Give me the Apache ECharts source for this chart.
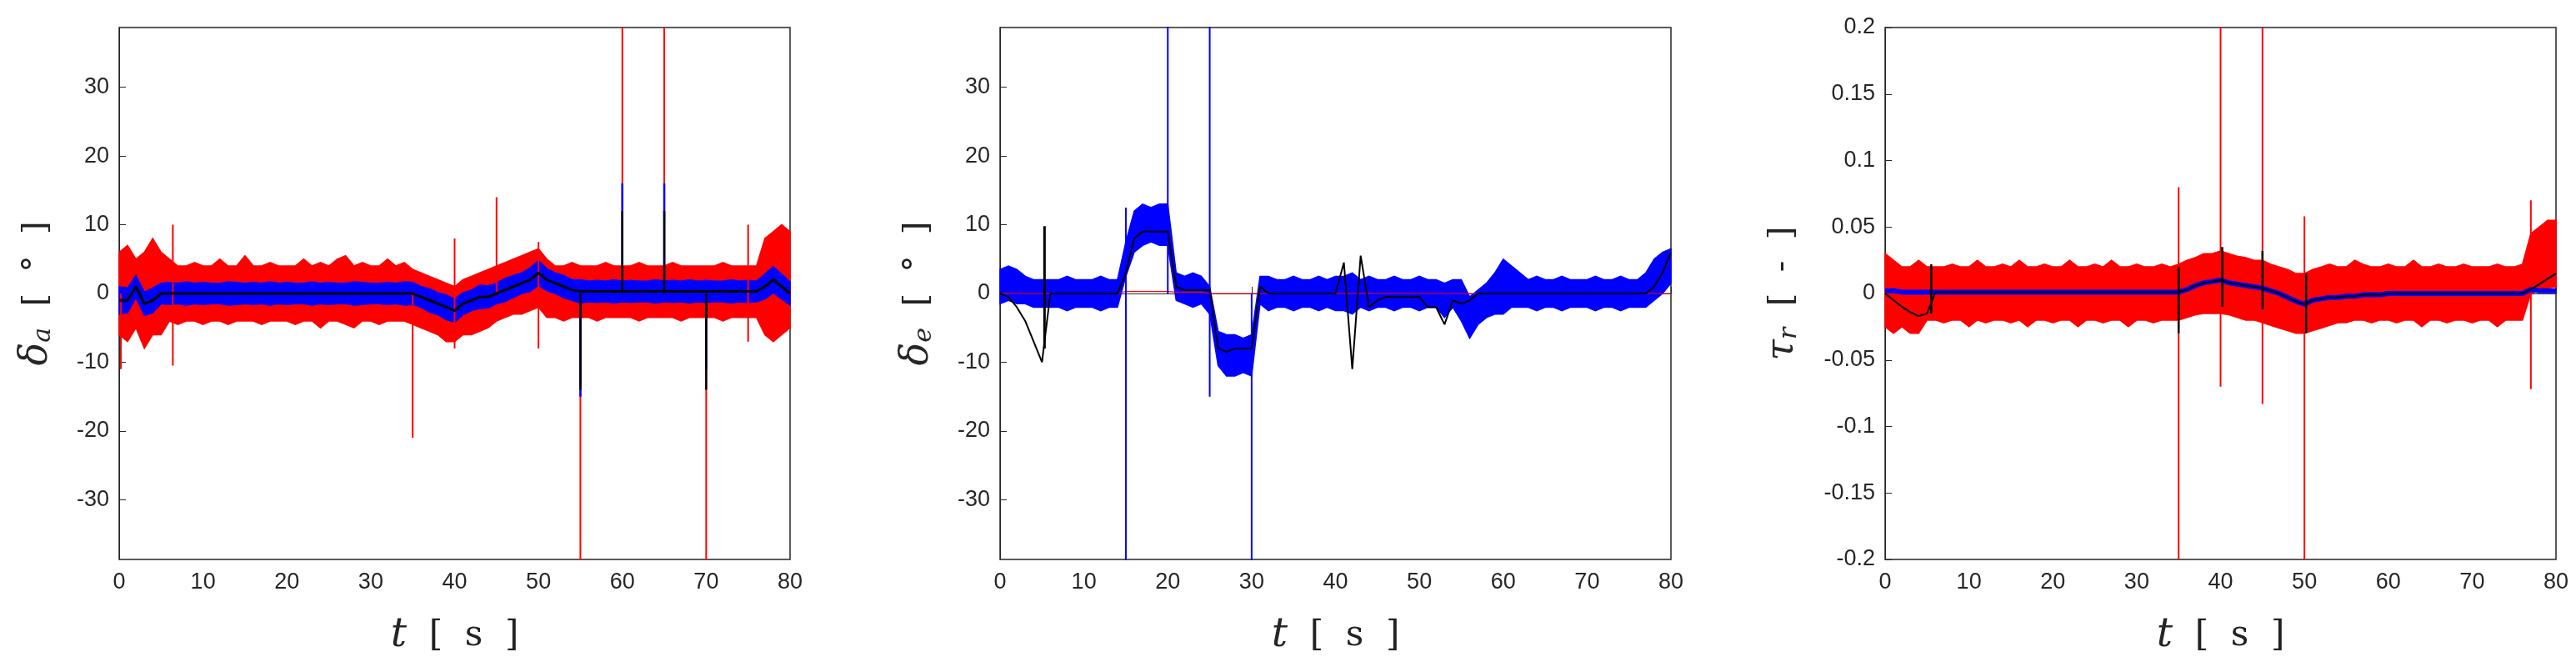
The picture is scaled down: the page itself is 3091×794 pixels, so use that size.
<!DOCTYPE html>
<html><head><meta charset="utf-8">
<script src="https://cdn.jsdelivr.net/npm/echarts@6/dist/echarts.min.js"></script>
<style>html,body{margin:0;background:#fff}#main{width:3091px;height:794px}</style>
</head><body><div id="main"></div>
<script>
var xTicks = [0, 10, 20, 30, 40, 50, 60, 70, 80];

// panel a: aileron, 1 s samples 0..80
var aRedHi = [6,7,5,6,8,6,5,4,4,4.5,4,4,5,4,4,5.5,4,4,4.5,4,4,4,5,4,4.5,4,5,5.5,4,4.5,4,4,5,4,4.5,3.5,3,2.5,2,1.5,1,2,2.5,3,3.5,4,4.5,5,5.5,6,6.5,5,4,4,4.5,4,4,4,4.5,4,4,4,4.5,4,4,4,4.5,4,4,4,4,4,4.5,4,4,4,4,8,9,10,9];
var aRedLo = [-6,-7,-5,-8,-6,-6,-4,-4.5,-4,-4,-4.5,-4,-4,-4.5,-4,-4,-4,-4.5,-4,-4,-4,-4.5,-4,-4,-5,-4,-4,-4.5,-5,-4,-4,-4.5,-4,-4,-4,-4.5,-5,-5.5,-6,-7,-7,-6,-6,-5.5,-5,-4,-3.5,-3,-3,-2.5,-2,-3.5,-3.5,-4,-3.5,-3.5,-3.5,-4,-3.5,-3.5,-3.5,-3.5,-4,-3.5,-3.5,-3.5,-3.5,-4,-3.5,-3.5,-3.5,-3.5,-4,-3.5,-3.5,-3.5,-3.5,-6,-7,-6,-5];
var aMean = [-1,-1,1,-1.5,-1,0,0,0,0,0,0,0,0,0,0,0,0,0,0,0,0,0,0,0,0,0,0,0,0,0,0,0,0,0,0,0,-0.5,-1,-1.5,-2,-2.5,-1.5,-1,-0.5,-0.5,0,0.5,1,1.5,2,3,2,1.5,1,0.5,0.3,0.3,0.3,0.3,0.3,0.3,0.3,0.3,0.3,0.3,0.3,0.3,0.3,0.3,0.3,0.3,0.3,0.3,0.3,0.3,0.3,0.3,1,2,1,0];
var aBlueW = [2,1.8,1.6,1.7,1.8,1.5,1.6,1.5,1.7,1.5,1.6,1.5,1.5,1.7,1.6,1.5,1.6,1.5,1.7,1.5,1.6,1.5,1.5,1.7,1.5,1.6,1.5,1.5,1.7,1.6,1.5,1.5,1.6,1.5,1.7,1.6,1.5,1.7,1.6,1.8,1.7,1.6,1.5,1.7,1.6,1.5,1.7,1.6,1.5,1.7,1.8,1.6,1.5,1.6,1.5,1.7,1.5,1.6,1.5,1.7,1.5,1.6,1.5,1.5,1.7,1.5,1.6,1.5,1.7,1.5,1.6,1.5,1.5,1.7,1.5,1.6,1.5,1.8,1.9,1.8,1.7];
var aRedSpikes = [[0.2,-11,0],[6.4,-10.5,10],[35,-21,0],[40,-8,8],[45,0,14],[50,-8,7.5],[55,-39,0],[60,0,39],[65,0,39],[70,-39,0],[75,-7,10]];
var aBlueSpikes = [[55,-15,0],[60,0,16],[65,0,16],[70,-11,0]];
var aBlackSpikes = [[55,-14,0],[60,0,12],[65,0,12],[70,-14,0]];

// panel e: elevator
var eRed = [0,0,0,0,0,0,0,0,0,0,0,0,0,0,0,0.3,0.3,0.3,0.3,0.3,0.3,0.2,0.2,0.2,0.2,0,0,0,0,0,0,0,0,0,0,0,0,0,0,0,0,0,0,0,0,0,0,0,0,0,0,0,0,0,0,0,0,0,0,0,0,0,0,0,0,0,0,0,0,0,0,0,0,0,0,0,0,0,0,0,0];
var eMean = [1,1.5,1,0.5,0,0,0,0,0,0,0,0,0,0,0,5,9,10,10,10,10,1,0.5,0.5,0.5,-1,-8,-9,-9,-9,-9,0.5,0,0,0,0,0,0,0,0,0,0,0,0,0,0,0,0,0,0,0,0,0,-1,0,-1,-3.5,-2,-1,0,1,1,0.5,0,0,0,0,0,0,0,0,0,0,0,0,0,0,0.5,2,3,4];
var eBlueW = [2.5,2.5,2.5,2,2,2,2,2,2.5,2,2,2,2.5,2,2,2.5,3,3,2.5,3,3,2,2,2.5,2,2,2.5,3,3,2.5,3,2,2.5,2,2,2.5,2,2,2.5,2,2.5,2.5,3,2,2.5,2,2,2.5,2,2,2.5,2,2,2.5,2,3,3,2.5,2.5,3,4,3,2.5,2,2.5,2,2,2.5,2,2,2,2.5,2,2,2.5,2,2,2.5,3,3,2.5];
var eBlack = [0,-0.5,-2,-4,-7,-10,0,0,0,0,0,0,0,0,0,3,8,9,9,9,9,1,0.5,0.5,0.5,0.5,-8,-8.5,-8,-8,-8,1,0,0,0,0,0,0,0,0,0,4.5,-11,5.5,-2,-1,-0.5,-0.5,-0.5,-0.5,-0.5,-2,-2,-4.5,-1,-1.5,-1,0,0,0,0,0,0,0,0,0,0,0,0,0,0,0,0,0,0,0,0,0,1,3,6];
var eBlueSpikes = [[15,-39,12.5],[20,0,39],[25,-15,39],[30,-39,0]];
var eBlackSpikes = [[5.3,-8,9.8]];

// panel r: throttle
var rRedHi = [0.03,0.025,0.02,0.02,0.025,0.02,0.02,0.02,0.022,0.02,0.02,0.025,0.02,0.02,0.022,0.02,0.025,0.02,0.02,0.022,0.02,0.02,0.025,0.02,0.02,0.022,0.02,0.025,0.02,0.02,0.022,0.02,0.02,0.022,0.02,0.022,0.025,0.027,0.03,0.03,0.032,0.03,0.028,0.027,0.025,0.025,0.022,0.02,0.018,0.015,0.015,0.018,0.02,0.022,0.02,0.02,0.025,0.022,0.02,0.02,0.022,0.02,0.02,0.025,0.02,0.02,0.022,0.02,0.02,0.022,0.02,0.02,0.02,0.022,0.02,0.02,0.022,0.045,0.05,0.055,0.055];
var rRedLo = [-0.025,-0.03,-0.025,-0.03,-0.03,-0.02,-0.02,-0.022,-0.02,-0.02,-0.025,-0.02,-0.022,-0.02,-0.02,-0.022,-0.02,-0.025,-0.02,-0.02,-0.022,-0.02,-0.02,-0.025,-0.02,-0.02,-0.022,-0.02,-0.02,-0.025,-0.02,-0.02,-0.022,-0.02,-0.02,-0.02,-0.018,-0.016,-0.015,-0.015,-0.015,-0.016,-0.018,-0.02,-0.02,-0.022,-0.024,-0.026,-0.028,-0.03,-0.03,-0.028,-0.026,-0.024,-0.022,-0.022,-0.02,-0.02,-0.022,-0.02,-0.02,-0.022,-0.02,-0.02,-0.025,-0.02,-0.02,-0.022,-0.02,-0.02,-0.022,-0.02,-0.02,-0.025,-0.02,-0.02,-0.02,0,0.002,0.004,0.005];
var rBlue = [0.002,0.002,0.001,0.001,0.001,0.001,0.001,0.001,0.001,0.001,0.001,0.001,0.001,0.001,0.001,0.001,0.001,0.001,0.001,0.001,0.001,0.001,0.001,0.001,0.001,0.001,0.001,0.001,0.001,0.001,0.001,0.001,0.001,0.001,0.001,0.001,0.003,0.006,0.008,0.009,0.01,0.008,0.007,0.006,0.005,0.004,0.002,0,-0.003,-0.006,-0.008,-0.005,-0.004,-0.003,-0.003,-0.002,-0.002,-0.001,-0.001,-0.001,0,0,0,0,0,0,0,0,0,0,0,0,0,0,0,0,0,0.003,0.002,0.002,0.002];
var rBlack = [0,-0.005,-0.01,-0.014,-0.017,-0.015,0.001,0.001,0.001,0.001,0.001,0.001,0.001,0.001,0.001,0.001,0.001,0.001,0.001,0.001,0.001,0.001,0.001,0.001,0.001,0.001,0.001,0.001,0.001,0.001,0.001,0.001,0.001,0.001,0.001,0.001,0.003,0.006,0.008,0.009,0.01,0.008,0.007,0.006,0.005,0.004,0.002,0,-0.003,-0.006,-0.008,-0.005,-0.004,-0.003,-0.003,-0.002,-0.002,-0.001,-0.001,-0.001,0,0,0,0,0,0,0,0,0,0,0,0,0,0,0,0,0,0.003,0.007,0.011,0.015];
var rRedSpikes = [[35,-0.2,0.08],[40,-0.07,0.2],[45,-0.083,0.2],[50,-0.2,0.058],[77,-0.072,0.07]];
var rBlackSpikes = [[5.5,-0.015,0.022],[35,-0.03,0.02],[40.2,-0.01,0.035],[45,-0.012,0.032],[50.2,-0.03,0.015]];

var RED = '#ff0000', BLUE = '#0000ff', BLACK = '#000000';

function pts(arr) { return arr.map(function (v, i) { return [i, v]; }); }
function spikeLines(sp) {
    var d = [];
    sp.forEach(function (s) { d.push([s[0], s[1]], [s[0], s[2]], [s[0], null]); });
    return d;
}
function band(idx, hi, lo, color) {
    return {
        type: 'custom', xAxisIndex: idx, yAxisIndex: idx, data: [0], silent: true,
        renderItem: function (params, api) {
            var p = [];
            hi.forEach(function (v, i) { p.push(api.coord([i, v])); });
            for (var i = lo.length - 1; i >= 0; i--) p.push(api.coord([i, lo[i]]));
            return { type: 'polygon', shape: { points: p }, style: { fill: color, stroke: color, lineWidth: 1.5 } };
        }
    };
}
function line(idx, data, color, w) {
    return { type: 'line', xAxisIndex: idx, yAxisIndex: idx, data: data, showSymbol: false, connectNulls: false,
        lineStyle: { color: color, width: w }, itemStyle: { color: color }, silent: true, animation: false };
}
function plus(m, w) { return m.map(function (v, i) { return v + (Array.isArray(w) ? w[i] : w); }); }
function minus(m, w) { return m.map(function (v, i) { return v - (Array.isArray(w) ? w[i] : w); }); }

var lefts = [143, 1200, 2262], W = 805, TOP = 33, H = 638;
var yr = [[-38.7, 38.7], [-38.7, 38.7], [-0.2, 0.2]];
var yNames = [['δ', 'a', '°'], ['δ', 'e', '°'], ['τ', 'r', '-']];
var grids = [], xAxes = [], yAxes = [];
var tickLab = { color: '#262626', fontSize: 27, fontFamily: 'Liberation Sans' };
for (var k = 0; k < 3; k++) {
    grids.push({ left: lefts[k], top: TOP, width: W, height: H, show: true, borderColor: '#262626', borderWidth: 1.5 });
    xAxes.push({ type: 'value', gridIndex: k, min: 0, max: 80, interval: 10,
        axisLine: { lineStyle: { color: '#262626' } }, axisTick: { inside: true, length: 8, lineStyle: { color: '#262626' } },
        splitLine: { show: false }, axisLabel: Object.assign({ margin: 14 }, tickLab),
        name: '{i|t}{n|  [  s  ]}', nameLocation: 'middle', nameGap: 68,
        nameTextStyle: { rich: { i: { fontFamily: 'DejaVu Serif', fontStyle: 'italic', fontSize: 48 }, n: { fontFamily: 'DejaVu Serif', fontSize: 42, color: '#222' } } } });
    var ya = { type: 'value', gridIndex: k, min: yr[k][0], max: yr[k][1],
        axisLine: { lineStyle: { color: '#262626' } }, axisTick: { inside: true, length: 8, lineStyle: { color: '#262626' } },
        splitLine: { show: false }, axisLabel: Object.assign({ margin: 12, showMinLabel: k == 2, showMaxLabel: k == 2 }, tickLab),
        name: '{i|' + yNames[k][0] + '}{s|' + yNames[k][1] + '}{n|  [  ' + yNames[k][2] + '  ]}', nameLocation: 'middle', nameGap: k == 2 ? 100 : 76, nameRotate: 90,
        nameTextStyle: { rich: { i: { fontFamily: 'DejaVu Serif', fontStyle: 'italic', fontSize: 46 }, s: { fontFamily: 'DejaVu Serif', fontStyle: 'italic', fontSize: 30, padding: [16, 0, 0, 0] }, n: { fontFamily: 'DejaVu Serif', fontSize: 40, color: '#222' } } } };
    if (k == 2) ya.interval = 0.05; else ya.splitNumber = 8;
    yAxes.push(ya);
}

var series = [
    band(0, aRedHi, aRedLo, RED),
    line(0, spikeLines(aRedSpikes), RED, 2),
    band(0, plus(aMean, aBlueW), minus(aMean, aBlueW), BLUE),
    line(0, spikeLines(aBlueSpikes), BLUE, 2.5),
    line(0, pts(aMean), BLACK, 3),
    line(0, spikeLines(aBlackSpikes), BLACK, 2.5),

    line(1, pts(eRed), RED, 1.2),
    band(1, plus(eMean, eBlueW), minus(eMean, eBlueW), BLUE),
    line(1, spikeLines(eBlueSpikes), BLUE, 2),
    line(1, pts(eBlack), BLACK, 2),
    line(1, spikeLines(eBlackSpikes), BLACK, 3),

    band(2, rRedHi, rRedLo, RED),
    line(2, spikeLines(rRedSpikes), RED, 2),
    line(2, pts(rBlue), BLUE, 6),
    line(2, pts(rBlack), BLACK, 2),
    line(2, spikeLines(rBlackSpikes), BLACK, 2.5)
];

var myChart = echarts.init(document.getElementById('main'));
myChart.setOption({ animation: false, grid: grids, xAxis: xAxes, yAxis: yAxes, series: series });
</script></body></html>
